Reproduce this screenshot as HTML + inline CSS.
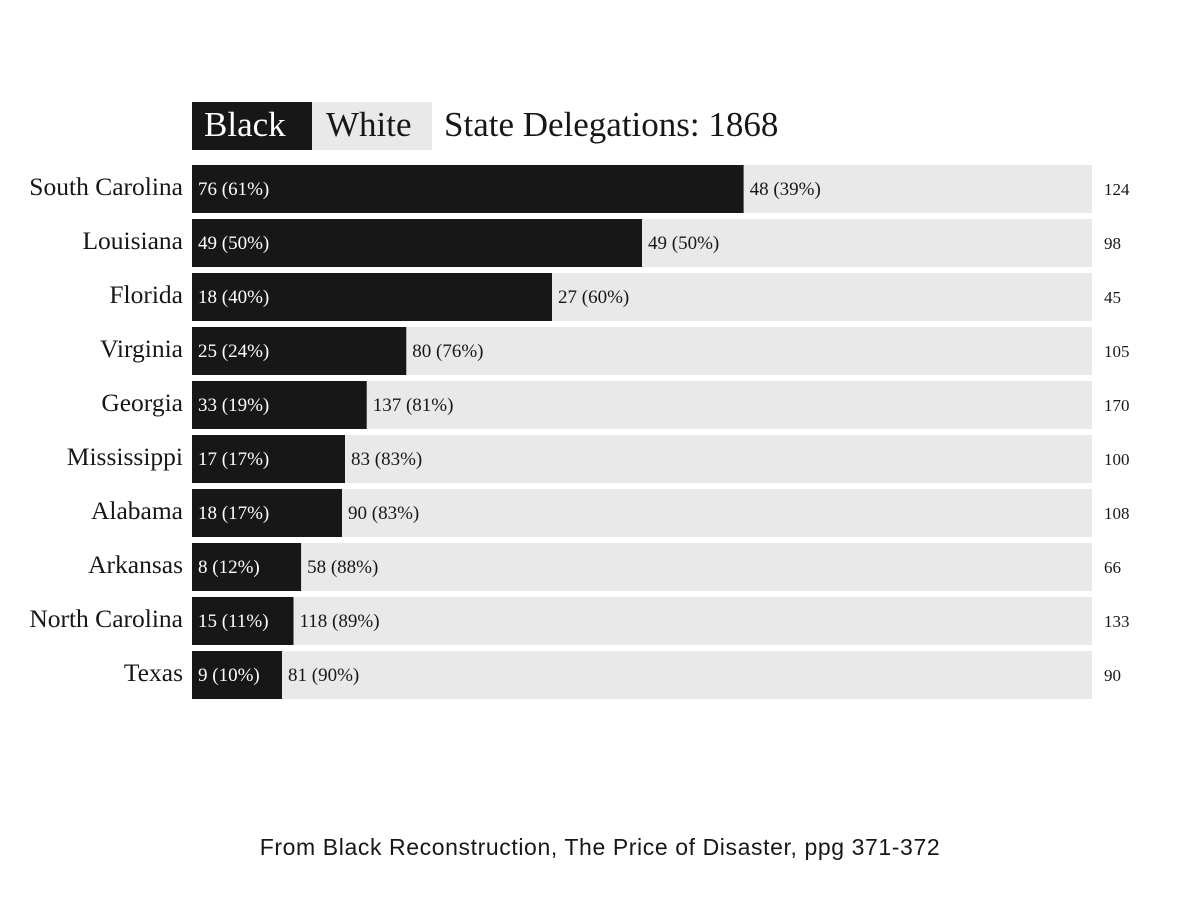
<!DOCTYPE html>
<html><head><meta charset="utf-8"><style>
body{margin:0;background:#fff;}
svg text{font-family:"Liberation Serif",serif;}
</style></head><body>
<svg width="1200" height="900" xmlns="http://www.w3.org/2000/svg">
<g>
<rect x="192" y="102" width="120" height="48" fill="#181718"/>
<text x="204" y="136" font-size="35" fill="#fff">Black</text>
<rect x="312" y="102" width="120" height="48" fill="#e9e9e9"/>
<text x="326" y="136" font-size="35" fill="#181718">White</text>
<text x="444" y="136" font-size="35" fill="#181718">State Delegations: 1868</text>
</g>
<g id="rows"></g>
<text x="600" y="855" font-size="23" text-anchor="middle" letter-spacing="0.6" style="font-family:'Liberation Sans',sans-serif" fill="#181718">From Black Reconstruction, The Price of Disaster, ppg 371-372</text>
</svg>
<script>
const states=["South Carolina","Louisiana","Florida","Virginia","Georgia","Mississippi","Alabama","Arkansas","North Carolina","Texas"];
const blackCounts=[76,49,18,25,33,17,18,8,15,9];
const whiteCounts=[48,49,27,80,137,83,90,58,118,81];
const NS="http://www.w3.org/2000/svg";
const g=document.getElementById('rows');
const x0=192,W=900,top0=165,pitch=54,h=48;
function xs(f){return x0+f*W;}
function mk(tag,attrs){const e=document.createElementNS(NS,tag);for(const k in attrs)e.setAttribute(k,attrs[k]);return e;}
states.forEach((s,i)=>{
const b=blackCounts[i],w=whiteCounts[i],t=b+w,y=top0+i*pitch,cy=y+h/2+6;
const bp=Math.round(b/t*100),wp=100-bp;
const bg=mk('rect',{x:x0,y:y,width:W,height:h,fill:'#e9e9e9'});


g.appendChild(bg);
const bx=xs(b/t);
const br=mk('rect',{x:x0,y:y,width:bx-x0,height:h,fill:'#181718'});


g.appendChild(br);
const lab=mk('text',{x:183,y:cy,'font-size':25.5,'text-anchor':'end',fill:'#181718'});
lab.textContent=s;


g.appendChild(lab);
const bl=mk('text',{x:198,y:cy,'font-size':19,fill:'#fff'});
bl.textContent=b+' ('+bp+'%)';


g.appendChild(bl);
const wl=mk('text',{x:bx+6,y:cy,'font-size':19,fill:'#181718'});
wl.textContent=w+' ('+wp+'%)';


g.appendChild(wl);
const tl=mk('text',{x:1104,y:cy,'font-size':17,fill:'#181718'});
tl.textContent=t;


g.appendChild(tl);
});
</script>
</body></html>
